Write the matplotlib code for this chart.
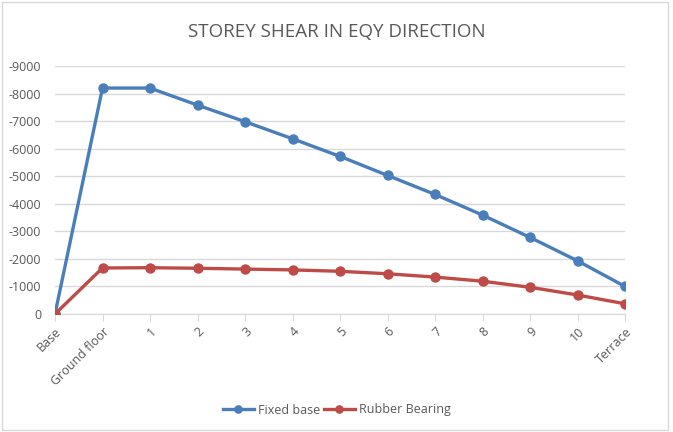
import matplotlib.pyplot as plt
from matplotlib.patches import Rectangle

floors = ['Base', 'Ground floor', '1', '2', '3', '4', '5', '6', '7', '8', '9', '10', 'Terrace']
fixed_base = [0, -8200, -8200, -7580, -6980, -6360, -5720, -5030, -4340, -3590, -2780, -1930, -1000]
rubber_bearing = [0, -1670, -1680, -1660, -1630, -1600, -1550, -1460, -1340, -1190, -970, -690, -370]
y_ticks = [0, -1000, -2000, -3000, -4000, -5000, -6000, -7000, -8000, -9000]

plt.rcParams['font.family'] = ['Open Sans', 'DejaVu Sans']
text_col = '#595959'

fig = plt.figure(figsize=(6.73, 4.32), dpi=100)
ax = fig.add_axes([55 / 673, 1 - 314 / 432, 570 / 673, 248 / 432])

x = list(range(len(floors)))
ax.plot(x, fixed_base, color='#4a7ebb', lw=2.4, marker='o', ms=6.5, label='Fixed base', zorder=3)
ax.plot(x, rubber_bearing, color='#be4b48', lw=2.4, marker='o', ms=6.5, label='Rubber Bearing', zorder=3)

ax.set_xlim(0, len(floors) - 1)
ax.set_ylim(0, -9000)
ax.set_yticks(y_ticks)
ax.set_yticklabels([str(v) for v in y_ticks])
ax.set_xticks(x)
ax.set_xticklabels(floors, rotation=45, ha='right', rotation_mode='anchor')
ax.grid(axis='y', color='#d9d9d9', lw=1)
ax.set_axisbelow(True)
for s in ['top', 'right', 'left']:
    ax.spines[s].set_visible(False)
ax.spines['bottom'].set_color('#d9d9d9')
ax.tick_params(axis='y', length=0, labelsize=9, colors=text_col, pad=10)
ax.tick_params(axis='x', length=5, color='#d9d9d9', labelsize=9, labelcolor=text_col, pad=3)

fig.text(0.5, 1 - 32 / 432, 'STOREY SHEAR IN EQY DIRECTION', ha='center', va='center',
         fontsize=13.5, color=text_col)
fig.legend(loc='center', bbox_to_anchor=(0.5, 1 - 410 / 432), ncol=2, frameon=False,
           fontsize=9, labelcolor=text_col, handlelength=2.5, columnspacing=0.3,
           handletextpad=0.3, markerscale=0.8)

fig.patches.append(Rectangle((2 / 673, 2 / 432), 666 / 673, 428 / 432, transform=fig.transFigure,
                             fill=False, edgecolor='#d9d9d9', lw=1))

fig.savefig('out.png', dpi=100)
